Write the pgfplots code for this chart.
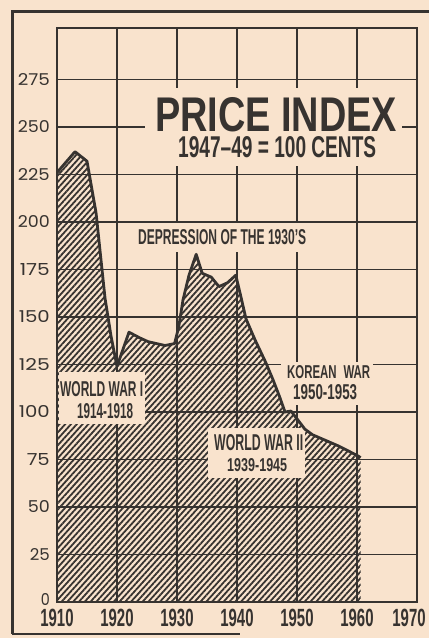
\documentclass[border=0pt]{standalone}
\usepackage{pgfplots}
\pgfplotsset{compat=1.18}
\usepackage{pgfplotstable}
\usetikzlibrary{patterns.meta}
\usepackage{fontspec}
\newfontfamily\ticky{Poppins}
\newfontfamily\tickx{Liberation Sans}[FakeStretch=0.6]
\newfontfamily\lab{Liberation Sans}
\definecolor{paper}{RGB}{249,227,205}
\definecolor{ink}{RGB}{55,51,48}

\pgfplotstableread{
year value
1910 226
1913 237
1915 232
1916.5 205
1918 160
1919 140
1920 124
1922 142
1923.8 139
1925.2 137
1926.6 136
1928 135
1929.6 136
1930.3 145
1931 159
1932 172
1933.2 183
1934.2 173
1935.7 171
1937 166
1938.4 168
1939.8 172
1940.7 160
1941.5 149
1943 138
1944.8 126
1946 117
1947.1 108
1948 100
1949 100.5
1950.1 96
1951.3 91
1952.6 88
1954.8 85
1957 82
1960.1 77
1960.6 76
}\pricedata

\newcommand\T[5]{\node[anchor=south west,inner sep=0pt,text=ink] at (#1,#2) {\resizebox{#3bp}{#4bp}{\lab\bfseries #5}};}
\newcommand\Y[3]{\node[anchor=east,inner sep=0pt,text=ink] at (50,#1) {\resizebox{#2bp}{12bp}{\ticky #3}};}

\begin{document}
\begin{tikzpicture}
\useasboundingbox (0,0) rectangle (429bp,638bp);
\fill[paper] (0,0) rectangle (429bp,638bp);
\begin{axis}[
  at={(57bp,36bp)}, anchor=south west, scale only axis,
  width=360bp, height=573.8bp,
  xmin=1910, xmax=1970, ymin=0, ymax=302,
  xtick={1910,1920,...,1970},
  xticklabels={1910,1920,1930,1940,1950,1960,\hspace*{-16bp}1970},
  ytick={0,25,...,275},
  yticklabels={},
  major tick length=0pt,
  grid=major,
  major grid style={ink, line width=1.5bp},
  axis line style={ink, line width=1.7bp},
  xticklabel style={font=\tickx\bfseries\fontsize{25}{25}\selectfont, text=ink, inner sep=0pt, anchor=north, yshift=-7bp},
]
\addplot[draw=none, pattern={Lines[angle=48,distance=4.3bp,line width=1.8bp]}, pattern color=ink] table[x=year,y=value] {\pricedata} \closedcycle;
\end{axis}
\begin{scope}[x=1bp,y=-1bp,shift={(0bp,638bp)}]
  \fill[paper] (145,88) rectangle (402,166);
  \fill[paper] (130,223.5) rectangle (312,252);
  \fill[paper] (58.5,372) rectangle (145,424);
  \fill[paper] (281,362) rectangle (373,405);
  \fill[paper] (208,428) rectangle (305,478);
\end{scope}
\begin{axis}[
  at={(57bp,36bp)}, anchor=south west, scale only axis,
  width=360bp, height=573.8bp,
  xmin=1910, xmax=1970, ymin=0, ymax=302,
  xtick=\empty, ytick=\empty,
  axis line style={ink, line width=1.7bp},
]
\addplot[ink, line width=2.8bp, line join=round, mark=none] table[x=year,y=value] {\pricedata};
\end{axis}
\begin{scope}[x=1bp,y=-1bp,shift={(0bp,638bp)}]
  \Y{600}{9}{0}
  \Y{554.5}{20}{25}
  \Y{507}{22}{50}
  \Y{459.5}{23}{75}
  \Y{412}{31}{100}
  \Y{364.5}{31}{125}
  \Y{317}{31}{150}
  \Y{269.5}{30}{175}
  \Y{222}{32}{200}
  \Y{174.5}{32}{225}
  \Y{127}{32}{250}
  \Y{79.5}{32}{275}
  \T{155}{132}{242}{34}{PRICE INDEX}
  \T{178}{158}{198}{21}{1947–49 = 100 CENTS}
  \T{138}{245}{168}{15}{DEPRESSION OF THE 1930’S}
  \T{60}{397}{83}{15}{WORLD WAR I}
  \T{77}{419}{56}{15}{1914-1918}
  \T{287}{379}{83}{13}{KOREAN\hspace{0.6em}WAR}
  \T{293}{400}{64}{15}{1950-1953}
  \T{214}{451}{89}{16}{WORLD WAR II}
  \T{227}{472}{60}{13}{1939-1945}
  \draw[ink, line width=3bp] (12,634) -- (12,12) -- (429,12);
  \draw[ink, line width=2bp] (12,634) -- (240,634);
\end{scope}
\end{tikzpicture}
\end{document}
